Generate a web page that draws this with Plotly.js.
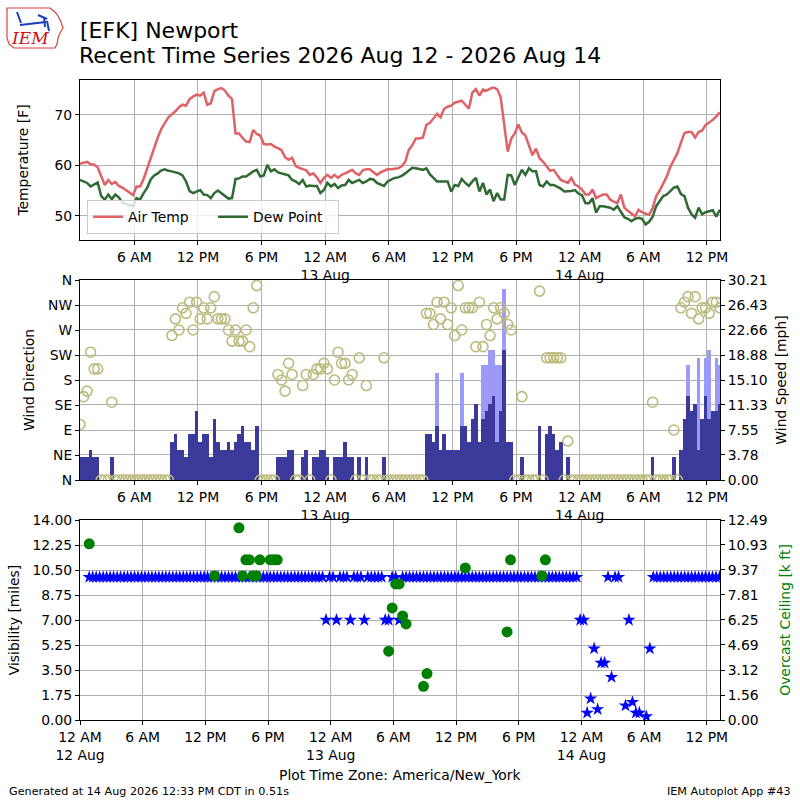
<!DOCTYPE html>
<html><head><meta charset="utf-8">
<script src="https://cdn.plot.ly/plotly-3.0.1.min.js"></script>
<style>body{margin:0;background:#fff}#chart{width:800px;height:800px}</style>
</head><body><div id="chart"></div>
<script>
// ---- observation schedule (station reports every 20 minutes) ----
const firstObsUTC = Date.UTC(2026, 7, 12, 0, 53);
const obsStepMinutes = 20;

// ---- Air temperature [F], one value per observation ----
const airTemp = [
60.3,60.5,60.7,60.2,60.1,59.6,57.8,56.1,57.1,56.3,
56.7,55.9,55.6,55.1,54.6,54.1,55.8,55.8,57.3,59.4,
61.4,63.2,65.5,67.2,68.5,69.5,70.1,70.7,71.5,72.0,
71.8,73.1,73.6,74.0,73.8,74.4,72.0,72.3,74.7,75.1,
75.3,74.8,73.8,73.1,66.3,66.3,65.4,64.7,64.6,67.0,
66.2,65.9,64.2,64.1,64.2,63.7,63.4,63.0,61.6,61.1,
61.5,59.9,59.5,59.2,59.0,58.1,58.4,57.6,56.5,57.5,
58.1,57.5,58.1,57.5,58.1,58.4,58.8,59.1,58.4,58.1,
59.0,59.2,59.2,58.6,58.1,58.6,58.9,59.2,59.2,59.3,
59.4,59.8,60.7,63.0,64.0,65.3,65.3,65.5,68.0,68.4,
69.3,70.2,69.5,71.2,71.6,71.8,72.4,72.6,72.8,72.0,
71.2,74.4,75.1,73.8,75.0,74.8,75.2,75.4,75.1,73.5,
67.6,62.7,65.3,66.3,68.1,66.5,65.9,64.0,62.0,63.3,
61.4,60.7,59.7,58.9,59.1,58.0,57.1,56.8,56.5,57.5,
56.2,55.8,55.2,54.2,54.2,55.2,53.5,53.9,54.2,54.2,
53.2,52.8,52.5,54.2,51.6,51.0,50.4,49.9,51.2,50.7,
50.4,50.2,51.5,53.9,55.0,56.5,57.8,59.7,61.0,62.4,
64.5,66.4,66.6,66.6,65.5,66.6,66.9,68.0,68.5,69.0,
69.7,70.5];

// ---- Dew point [F] ----
const dewPoint = [
57.1,56.8,56.5,55.8,56.2,56.6,53.9,53.2,54.2,53.3,
54.2,53.6,52.6,52.4,52.2,51.9,53.5,53.2,54.5,55.5,
57.2,58.0,58.4,59.0,59.2,58.9,58.8,58.6,58.4,58.0,
56.8,54.9,54.5,54.8,55.1,54.2,54.1,53.5,54.5,55.0,
54.5,53.9,53.4,53.5,57.3,57.4,57.8,57.8,58.3,58.8,
59.1,57.8,58.0,60.1,58.8,59.2,58.6,58.4,58.2,58.0,
57.1,56.8,56.3,57.1,55.8,56.0,55.9,55.9,54.5,55.1,
56.5,55.8,56.3,55.5,56.0,56.1,57.1,56.5,56.8,57.1,
56.5,56.8,57.3,57.2,56.5,56.2,55.9,56.8,57.1,57.5,
57.6,57.9,58.4,59.0,59.5,59.4,59.2,59.1,59.4,58.2,
57.5,56.8,56.8,56.8,56.8,54.8,56.1,55.9,57.3,56.5,
55.9,56.8,57.5,54.8,56.5,54.2,55.2,52.9,54.5,53.2,
53.2,58.1,58.0,56.1,57.5,59.1,58.1,59.4,58.8,58.8,
56.1,55.8,56.8,56.1,56.1,55.7,55.4,54.8,54.8,54.9,
55.1,54.4,54.1,52.5,52.5,53.5,50.6,51.9,51.9,51.8,
51.6,51.2,51.9,50.8,49.7,49.4,48.9,49.4,49.6,49.4,
48.3,48.8,49.8,51.9,53.0,53.9,54.2,54.9,55.6,55.8,
54.3,53.9,51.6,50.3,49.6,51.6,50.3,50.7,50.9,51.1,
49.8,51.2];

// ---- Wind direction [deg] (0 = calm) ----
const windDir = [
100,150,160,230,200,200,0,0,0,140,
0,0,0,0,0,0,0,0,0,0,
0,0,0,0,0,0,260,290,270,310,
300,320,270,320,290,310,290,310,330,290,
290,290,270,250,270,250,250,270,240,310,
350,0,0,0,0,0,190,180,160,210,
190,0,0,170,190,0,190,200,200,210,
200,0,180,230,210,210,180,190,0,220,
0,170,0,0,0,0,220,0,0,0,
0,0,0,0,0,0,0,0,300,300,
280,320,290,320,280,310,260,350,270,310,
310,310,240,320,240,280,260,310,290,310,
300,280,270,0,0,150,0,0,0,0,
340,0,220,220,220,220,220,0,70,0,
0,0,0,0,0,0,0,0,0,0,
0,0,0,0,0,0,0,0,0,0,
0,0,140,0,0,0,0,0,90,0,
310,320,330,300,330,290,310,310,300,320,
320,310];

// ---- Wind speed [mph] ----
const windSpeed = [
3.5,3.5,3.5,4.6,3.5,3.5,0,0,0,3.5,
0,0,0,0,0,0,0,0,0,0,
0,0,0,0,0,0,5.8,6.9,4.6,4.6,
3.5,6.9,6.9,10.4,5.8,6.9,6.9,3.5,9.2,5.8,
4.6,4.6,5.8,4.6,5.8,6.9,8.1,5.8,5.8,4.6,
8.1,0,0,0,0,0,3.5,3.5,3.5,4.6,
4.6,0,0,3.5,4.6,0,3.5,3.5,4.6,4.6,
3.5,0,3.5,3.5,3.5,5.8,3.5,3.5,0,3.5,
0,3.5,0,0,0,0,3.5,0,0,0,
0,0,0,0,0,0,0,0,6.9,6.9,
5.8,8.1,4.6,6.9,4.6,4.6,4.6,4.6,8.1,8.1,
5.8,9.2,11.5,5.8,9.2,10.4,11.5,12.7,5.8,10.4,
19.6,5.8,5.8,0,0,3.5,0,0,0,0,
8.1,0,6.9,8.1,6.9,4.6,5.8,0,3.5,0,
0,0,0,0,0,0,0,0,0,0,
0,0,0,0,0,0,0,0,0,0,
0,0,3.5,0,0,0,0,0,3.5,0,
4.6,9.2,12.7,10.4,11.5,4.6,9.2,12.7,9.2,10.4,
10.4,11.5];

// ---- Wind gusts [mph] (observation number, value) ----
const gustObs = [101,108,114,115,116,117,118,119,120,172,175,177,178,180,181];
const gustMph = [16.1,16.1,17.3,17.3,19.6,19.6,17.3,17.3,28.8,17.3,18.4,18.4,19.6,18.4,17.3];

// ---- Visibility [miles] ----
const visibility = [
10,10,10,10,10,10,10,10,10,10,
10,10,10,10,10,10,10,10,10,10,
10,10,10,10,10,10,10,10,10,10,
10,10,10,10,10,10,10,10,10,10,
10,10,10,10,10,10,10,10,10,10,
10,10,10,10,10,10,10,10,10,10,
10,10,10,10,10,10,10,10,7,10,
10,7,10,10,10,7,10,10,10,7,
10,10,10,10,10,7,7,10,10,7,
10,10,10,10,10,10,10,10,10,10,
10,10,10,10,10,10,10,10,10,10,
10,10,10,10,10,10,10,10,10,10,
10,10,10,10,10,10,10,10,10,10,
10,10,10,10,10,10,10,10,10,10,
10,7,7,0.5,1.5,5,0.75,4,4,10,
3,10,10,null,1,7,1.25,0.5,0.5,null,
0.25,5,10,10,10,10,10,10,10,10,
10,10,10,10,10,10,10,10,10,10,
10,10];

// ---- Overcast ceiling [k ft] (observation number, value) ----
const ceilingObs = [0,36,43,44,45,46,47,48,49,52,53,54,86,87,88,89,90,91,96,97,108,120,121,130,131];
const ceilingKft = [11.0,9.0,12.0,9.0,10.0,10.0,9.0,9.0,10.0,10.0,10.0,10.0,4.3,7.0,8.5,8.5,6.5,6.0,2.1,2.9,9.5,5.5,10.0,9.0,10.0];

// ---- tick labels ----
const dirTickText = ['N','NE','E','SE','S','SW','W','NW','N'];
const dirTickVals = [0,45,90,135,180,225,270,315,360];
const speedTickText = ['0.00','3.78','7.55','11.33','15.10','18.88','22.66','26.43','30.21'];
const visTickText = ['0.00','1.75','3.50','5.25','7.00','8.75','10.50','12.25','14.00'];
const ceilTickText = ['0.00','1.56','3.12','4.69','6.25','7.81','9.37','10.93','12.49'];
const timeTickVals = ['2026-08-12 00:00','2026-08-12 06:00','2026-08-12 12:00','2026-08-12 18:00','2026-08-13 00:00','2026-08-13 06:00','2026-08-13 12:00','2026-08-13 18:00','2026-08-14 00:00','2026-08-14 06:00','2026-08-14 12:00'];
const timeTickText = ['12 AM<br>12 Aug','6 AM','12 PM','6 PM','12 AM<br>13 Aug','6 AM','12 PM','6 PM','12 AM<br>14 Aug','6 AM','12 PM'];

// ---- build timestamps ----
function fmt(ms){const d=new Date(ms);const p=n=>String(n).padStart(2,'0');
  return d.getUTCFullYear()+'-'+p(d.getUTCMonth()+1)+'-'+p(d.getUTCDate())+' '+p(d.getUTCHours())+':'+p(d.getUTCMinutes());}
const obsTimes = airTemp.map((_,k)=>fmt(firstObsUTC + k*obsStepMinutes*60000));
const barWidthMs = obsStepMinutes*60000;

const font = 'DejaVu Sans, Arial, sans-serif';
const FS = 13.9;
const traces = [
  {x:obsTimes, y:airTemp, type:'scatter', mode:'lines', name:'Air Temp', line:{color:'#df6266', width:2.5}, xaxis:'x', yaxis:'y'},
  {x:obsTimes, y:dewPoint, type:'scatter', mode:'lines', name:'Dew Point', line:{color:'#2f6a33', width:2.5}, xaxis:'x', yaxis:'y'},
  {x:gustObs.map(k=>obsTimes[k]), y:gustMph, type:'bar', width:barWidthMs, marker:{color:'#9b9bf7', line:{width:0}}, showlegend:false, xaxis:'x2', yaxis:'y2'},
  {x:obsTimes, y:windSpeed, type:'bar', width:barWidthMs, marker:{color:'#3b3999', line:{width:0}}, showlegend:false, xaxis:'x2', yaxis:'y2'},
  {x:obsTimes, y:windDir, type:'scatter', mode:'markers', marker:{symbol:'circle-open', size:10, color:'#bbbb7e', line:{width:1.6, color:'#bbbb7e'}}, showlegend:false, xaxis:'x2', yaxis:'y3'},
  {x:obsTimes, y:visibility, type:'scatter', mode:'markers', marker:{symbol:'star', size:10, color:'#0000ff'}, showlegend:false, xaxis:'x3', yaxis:'y4'},
  {x:ceilingObs.map(k=>obsTimes[k]), y:ceilingKft, type:'scatter', mode:'markers', marker:{symbol:'circle', size:11, color:'#008000'}, showlegend:false, xaxis:'x3', yaxis:'y5'}
];

const ax = {showline:true, linecolor:'black', linewidth:1, mirror:true, ticks:'outside', ticklen:4, tickwidth:1, tickcolor:'black',
  gridcolor:'#b0b0b0', gridwidth:1, zeroline:false, tickfont:{size:FS, color:'black', family:font}};
const topRange = ['2026-08-12 00:53','2026-08-14 13:14'];
const botRange = ['2026-08-12 00:00','2026-08-14 13:16'];
const ttl = (s, standoff, color)=>({text:s, standoff:standoff, font:{size:FS, color:color||'black', family:font}});

// logo decoration (pixel outline of Iowa converted to paper coordinates)
const px2x = p=>(p-80)/640, px2y = p=>(720-p)/640;
const iowaPx = [[7,8],[50,8],[55,12],[58,16],[61,22],[63,28],[60,33],[58,38],[57,44],[55,48],[14,48],[9,44],[7,38]];
const iowaPath = 'M' + iowaPx.map(p=>px2x(p[0])+','+px2y(p[1])).join(' L') + ' Z';
const blueLines = [[[20,25],[46,22]],[[17,12],[21,23]],[[38,15],[47,19]],[[47,21],[49,31]],[[44,17],[45,27]]];

const layout = {
  width:800, height:800, paper_bgcolor:'white', plot_bgcolor:'white',
  margin:{l:80, r:80, t:80, b:80},
  font:{family:font, color:'black'},
  showlegend:true, barmode:'overlay', bargap:0,
  title:{text:'[EFK] Newport', x:0.1, xanchor:'left', xref:'container', y:1-30/800, yanchor:'middle', yref:'container',
    font:{size:22, color:'black', family:font}},
  legend:{x:0.011, y:0.759, xanchor:'left', yanchor:'bottom', orientation:'h', bgcolor:'rgba(255,255,255,0.8)',
    bordercolor:'#cccccc', borderwidth:1, font:{size:FS, family:font}, entrywidth:80, entrywidthmode:'pixels'},
  xaxis:Object.assign({}, ax, {type:'date', domain:[0,1], anchor:'y', range:topRange, tickvals:timeTickVals.slice(1), ticktext:timeTickText.slice(1)}),
  yaxis:Object.assign({}, ax, {domain:[0.75,1], anchor:'x', range:[45.2,76.9], tickvals:[50,60,70], title:ttl('Temperature [F]', 22)}),
  xaxis2:Object.assign({}, ax, {type:'date', domain:[0,1], anchor:'y2', range:topRange, tickvals:timeTickVals.slice(1), ticktext:timeTickText.slice(1)}),
  yaxis2:Object.assign({}, ax, {domain:[0.375,0.6875], anchor:'x2', side:'right', range:[0,30.21], tickvals:speedTickText.map(Number), ticktext:speedTickText, title:ttl('Wind Speed [mph]', 9)}),
  yaxis3:Object.assign({}, ax, {overlaying:'y2', anchor:'x2', side:'left', range:[0,360], tickvals:dirTickVals, ticktext:dirTickText, showgrid:false, title:ttl('Wind Direction', 10)}),
  xaxis3:Object.assign({}, ax, {type:'date', domain:[0,1], anchor:'y4', range:botRange, tickvals:timeTickVals, ticktext:timeTickText}),
  yaxis4:Object.assign({}, ax, {domain:[0,0.3125], anchor:'x3', range:[0,14], tickvals:visTickText.map(Number), ticktext:visTickText, title:ttl('Visibility [miles]', 9)}),
  yaxis5:Object.assign({}, ax, {overlaying:'y4', anchor:'x3', side:'right', range:[0,12.49], tickvals:ceilTickText.map(Number), ticktext:ceilTickText, showgrid:false,
    title:ttl('Overcast Ceiling [k ft]', 13, '#008000')}),
  shapes:[
    {type:'path', xref:'paper', yref:'paper', path:iowaPath, line:{color:'#d94040', width:1.2}, fillcolor:'rgba(0,0,0,0)', layer:'above'}
  ].concat(blueLines.map(l=>({type:'line', xref:'paper', yref:'paper', x0:px2x(l[0][0]), y0:px2y(l[0][1]), x1:px2x(l[1][0]), y1:px2y(l[1][1]), line:{color:'#1a3fbf', width:2}}))),
  annotations:[
    {text:'Recent Time Series 2026 Aug 12 - 2026 Aug 14', xref:'paper', yref:'paper', x:0, xshift:-3, y:px2y(56), xanchor:'left', yanchor:'middle', showarrow:false, font:{size:22, family:font, color:'black'}},
    {text:'Plot Time Zone: America/New_York', xref:'paper', yref:'paper', x:0.5, y:px2y(775), xanchor:'center', yanchor:'middle', showarrow:false, font:{size:FS, family:font, color:'black'}},
    {text:'Generated at 14 Aug 2026 12:33 PM CDT in 0.51s', xref:'paper', yref:'paper', x:px2x(7), y:px2y(791), xanchor:'left', yanchor:'middle', showarrow:false, font:{size:11.2, family:font, color:'black'}},
    {text:'IEM Autoplot App #43', xref:'paper', yref:'paper', x:px2x(793), y:px2y(791), xanchor:'right', yanchor:'middle', showarrow:false, font:{size:11.2, family:font, color:'black'}},
    {text:'IEM', xref:'paper', yref:'paper', x:px2x(30), y:px2y(38), xanchor:'center', yanchor:'middle', showarrow:false, font:{size:17, family:'DejaVu Serif, serif', color:'#cc1111', style:'italic'}}
  ]
};

Plotly.newPlot('chart', traces, layout, {staticPlot:true, displayModeBar:false});
</script></body></html>
